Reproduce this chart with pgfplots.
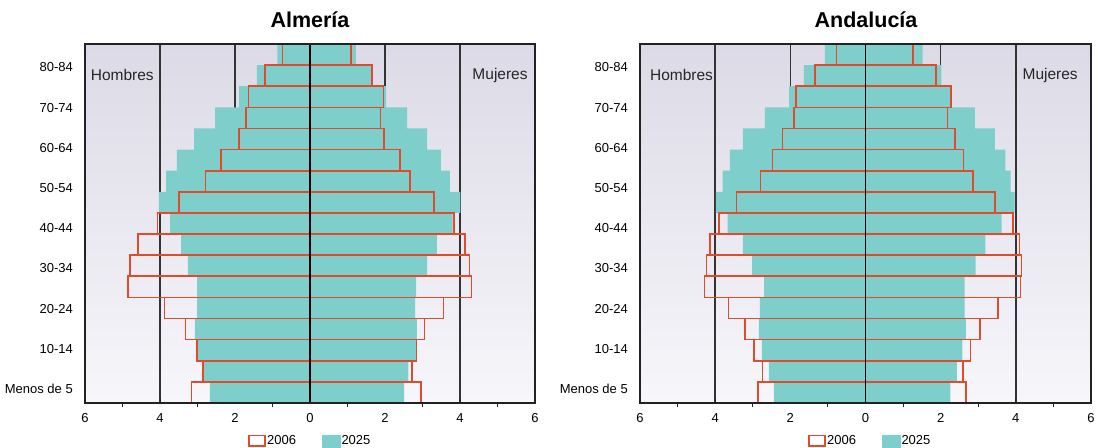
\documentclass[border=0pt]{standalone}
\usepackage{fontspec}
\setmainfont{Liberation Sans}
\usepackage{pgfplots}
\usepackage{pgfplotstable}
\pgfplotsset{compat=1.18}
\definecolor{teal25}{HTML}{7ECFCC}
\definecolor{red06}{HTML}{E04B2C}
\definecolor{bgtop}{HTML}{DCDAE6}
\definecolor{bgbot}{HTML}{F7F6FA}
\definecolor{frame}{HTML}{222222}
\definecolor{gridc}{HTML}{333333}

% y: 0 = Menos de 5 (0-4), ..., 16 = top group
\pgfplotstableread{
y mt mr ft fr
0 2.67 3.16 2.51 2.96
1 2.84 2.85 2.62 2.72
2 3.00 3.02 2.83 2.84
3 3.07 3.32 2.85 3.05
4 3.01 3.88 2.80 3.56
5 3.01 4.86 2.83 4.31
6 3.26 4.80 3.12 4.25
7 3.44 4.58 3.38 4.14
8 3.73 4.07 3.80 3.84
9 4.03 3.49 4.01 3.31
10 3.84 2.79 3.73 2.67
11 3.55 2.37 3.49 2.40
12 3.09 1.89 3.12 1.98
13 2.53 1.71 2.59 1.88
14 1.89 1.64 2.03 1.96
15 1.42 1.20 1.64 1.65
16 0.87 0.73 1.22 1.09
}\almeria

\pgfplotstableread{
y mt mr ft fr
0 2.44 2.86 2.26 2.68
1 2.57 2.74 2.43 2.60
2 2.76 2.96 2.58 2.79
3 2.84 3.21 2.67 3.04
4 2.81 3.65 2.64 3.52
5 2.70 4.28 2.64 4.12
6 3.02 4.23 2.93 4.15
7 3.26 4.14 3.19 4.10
8 3.67 3.90 3.62 3.93
9 3.98 3.43 3.97 3.44
10 3.80 2.79 3.86 2.86
11 3.61 2.48 3.72 2.61
12 3.26 2.21 3.44 2.38
13 2.68 1.91 2.91 2.18
14 2.03 1.85 2.26 2.27
15 1.64 1.35 2.02 1.88
16 1.08 0.77 1.52 1.27
}\andalucia

\pgfplotsset{
  pyr/.style={
    scale only axis, height=359pt,
    xmin=-6, xmax=6, ymin=-0.5, ymax=16.5,
    xtick={-6,-4,...,6}, xticklabels={6,4,2,0,2,4,6},
    minor xtick={-5,-3,...,5},
    xtick pos=bottom,
    tick align=inside,
    major tick length=4pt, minor tick length=3.5pt,
    tick style={draw=frame, line width=1pt},
    minor x tick style={yshift=-3.5pt},
    xmajorgrids,
    major grid style={draw=gridc, line width=1.4pt},
    ytick={0.163,2.067,3.971,5.875,7.779,9.683,11.587,13.491,15.395},
    yticklabels={Menos de 5,10-14,20-24,30-34,40-44,50-54,60-64,70-74,80-84},
    ytick style={draw=none},
    tick label style={font=\fontsize{13}{15}\selectfont},
    xticklabel style={inner sep=0pt, yshift=-10pt},
    yticklabel style={inner sep=0pt, xshift=-8pt},
    /pgf/number format/assume math mode=true,
    axis line style={draw=frame, line width=1.6pt},
    axis background/.style={top color=bgtop, bottom color=bgbot},
    xbar, bar width=1, bar shift=0pt,
    legend style={draw=none, fill=none, legend columns=2,
      font=\fontsize{13}{15}\selectfont, inner sep=0pt,
      nodes={inner sep=1.5pt},
      /tikz/every even column/.append style={column sep=24pt}},
  },
  tealbar/.style={fill=teal25, draw=none, forget plot},
  redbar/.style={draw=red06, fill=none, line width=1.6pt, forget plot},
}

\newcommand{\pyrlegend}{%
  \addlegendimage{legend image code/.code={\draw[draw=red06,fill=none,line width=1.6pt] (0pt,-5.2pt) rectangle (16pt,5.2pt);}}
  \addlegendentry{2006}
  \addlegendimage{legend image code/.code={\fill[teal25] (0pt,-6pt) rectangle (18pt,6pt);}}
  \addlegendentry{2025}
}

\begin{document}
\begin{tikzpicture}[x=1pt,y=1pt]
\path (0,0) rectangle (1098,446);

\node[font=\bfseries\fontsize{21.5}{25}\selectfont, anchor=base] at (310,418.5) {Almería};
\node[font=\bfseries\fontsize{21.5}{25}\selectfont, anchor=base] at (866,418.5) {Andalucía};

\begin{axis}[pyr, width=450pt, at={(85pt,43pt)}, anchor=south west,
  legend style={at={(0.5,-0.086)}, anchor=north}]
  \pyrlegend
  \addplot[tealbar] table[x expr=-\thisrow{mt}, y=y] {\almeria};
  \addplot[tealbar] table[x=ft, y=y] {\almeria};
  \addplot[redbar] table[x expr=-\thisrow{mr}, y=y] {\almeria};
  \addplot[redbar] table[x=fr, y=y] {\almeria};
  \draw[black, line width=1.5pt] (axis cs:0,-0.5) -- (axis cs:0,16.5);
  \draw[frame, line width=1.6pt] (rel axis cs:0,0) rectangle (rel axis cs:1,1);
  \node[anchor=west, inner sep=0pt, font=\fontsize{15.5}{18}\selectfont, text=black!85] at (rel axis cs:0.0126,0.9136) {Hombres};
  \node[anchor=east, inner sep=0pt, font=\fontsize{15.5}{18}\selectfont, text=black!85] at (rel axis cs:0.984,0.9136) {Mujeres};
\end{axis}

\begin{axis}[pyr, width=451pt, at={(640pt,43pt)}, anchor=south west,
  legend style={at={(0.51,-0.086)}, anchor=north}]
  \pyrlegend
  \addplot[tealbar] table[x expr=-\thisrow{mt}, y=y] {\andalucia};
  \addplot[tealbar] table[x=ft, y=y] {\andalucia};
  \addplot[redbar] table[x expr=-\thisrow{mr}, y=y] {\andalucia};
  \addplot[redbar] table[x=fr, y=y] {\andalucia};
  \draw[black, line width=1.5pt] (axis cs:0,-0.5) -- (axis cs:0,16.5);
  \draw[frame, line width=1.6pt] (rel axis cs:0,0) rectangle (rel axis cs:1,1);
  \node[anchor=west, inner sep=0pt, font=\fontsize{15.5}{18}\selectfont, text=black!85] at (rel axis cs:0.022,0.9136) {Hombres};
  \node[anchor=east, inner sep=0pt, font=\fontsize{15.5}{18}\selectfont, text=black!85] at (rel axis cs:0.971,0.9136) {Mujeres};
\end{axis}
\end{tikzpicture}
\end{document}
